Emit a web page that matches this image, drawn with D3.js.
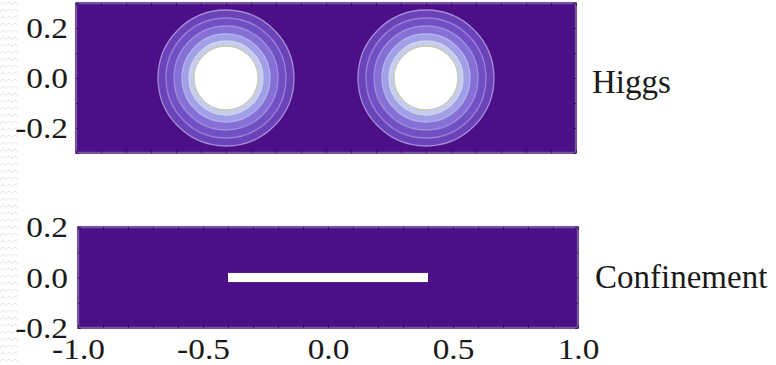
<!DOCTYPE html>
<html>
<head>
<meta charset="utf-8">
<script src="https://cdn.jsdelivr.net/npm/d3@7"></script>
<style>
  body { margin: 0; background: #fff; }
  svg { display: block; }
  svg text { font-family: "Liberation Serif"; }
</style>
</head>
<body>
<div id="chart"></div>
<script>
// values
const xTicks = [-1.0, -0.5, 0.0, 0.5, 1.0];
const higgsYTicks = [0.2, 0.0, -0.2];
const confYTicks = [0.2, 0.0, -0.2];
const minorStep = 0.1;
const vortexCenters = [-0.4, 0.4];
// contour levels of the Higgs field around each vortex (outer -> inner)
const contourRadii = [0.272, 0.24, 0.208, 0.176, 0.148, 0.128];
const contourColors = ['#6a43b9', '#7150c3', '#8670d6', '#a19fe8', '#c6ccf0', '#ffffff'];
const contourEdges = ['#a68cd8', '#9a80d6', '#9c8ee0', '#b4b2ec', '#d0d4e8', '#c8cbb0'];
const stringEnds = [-0.4, 0.4];
const stringHalfWidth = 0.018;
const panelLabels = ['Higgs', 'Confinement'];

const width = 776, height = 365;
const serif = '"Liberation Serif"';
const panelFill = '#4b1088';
const fmt = d => d3.format('.1f')(d).replace('\u2212', '-');

const svg = d3.select('#chart').append('svg')
  .attr('width', width)
  .attr('height', height);

svg.append('rect').attr('width', width).attr('height', height).attr('fill', '#fff');

// faint wavy pattern at the left edge
const defs = svg.append('defs');
defs.append('pattern')
  .attr('id', 'wave')
  .attr('patternUnits', 'userSpaceOnUse')
  .attr('width', 18).attr('height', 7)
  .append('path')
  .attr('d', 'M0,4.5 l3,-2.5 l3,2.5 l3,-2.5 l3,2.5 l3,-2.5 l3,2.5')
  .attr('fill', 'none')
  .attr('stroke', '#e6e6e6')
  .attr('stroke-width', 1);
svg.append('rect').attr('x', 0).attr('y', 0).attr('width', 18).attr('height', height)
  .attr('fill', 'url(#wave)');

// scales
const x1 = d3.scaleLinear().domain([-1, 1]).range([76, 576]);
const y1 = d3.scaleLinear().domain([-0.3, 0.3]).range([153, 3]);
const x2 = d3.scaleLinear().domain([-1, 1]).range([78, 578]);
const y2 = d3.scaleLinear().domain([-0.2, 0.2]).range([328, 227]);

function panel(x, y) {
  const g = svg.append('g');
  const [xa, xb] = x.range(), [ya, yb] = y.range();
  g.append('rect')
    .attr('x', xa).attr('y', yb).attr('width', xb - xa).attr('height', ya - yb)
    .attr('fill', panelFill)
    .attr('stroke', '#bca6dc').attr('stroke-width', 2.2);
  return g;
}

// dark frame + small inward ticks on every side
function frame(x, y) {
  const [xa, xb] = x.range(), [ya, yb] = y.range();
  const xs = d3.range(x.domain()[0], x.domain()[1] + 1e-9, minorStep);
  const ys = d3.range(y.domain()[0], y.domain()[1] + 1e-9, minorStep);
  const tick = (axis, tx, ty) => svg.append('g')
    .attr('transform', `translate(${tx},${ty})`)
    .call(axis.tickSize(-3).tickFormat(''))
    .call(g => g.select('.domain').remove())
    .call(g => g.selectAll('line').attr('stroke', '#2a0850').attr('stroke-opacity', 0.7));
  tick(d3.axisTop(x).tickValues(xs), 0, yb);
  tick(d3.axisBottom(x).tickValues(xs), 0, ya);
  tick(d3.axisLeft(y).tickValues(ys), xa, 0);
  tick(d3.axisRight(y).tickValues(ys), xb, 0);
  svg.append('rect')
    .attr('x', xa).attr('y', yb).attr('width', xb - xa).attr('height', ya - yb)
    .attr('fill', 'none')
    .attr('stroke', '#2a0850').attr('stroke-width', 1);
}

// --- Higgs panel
const higgsPanel = panel(x1, y1);
const px = r => x1(r) - x1(0);

const vortex = higgsPanel.selectAll('g.vortex')
  .data(vortexCenters)
  .enter().append('g')
  .attr('class', 'vortex')
  .attr('transform', d => `translate(${x1(d)},${y1(0)})`);

vortex.selectAll('circle')
  .data(contourRadii.map((r, i) => ({ r, fill: contourColors[i], edge: contourEdges[i] })))
  .enter().append('circle')
  .attr('r', d => px(d.r))
  .attr('fill', d => d.fill)
  .attr('stroke', d => d.edge)
  .attr('stroke-width', 1.3);

frame(x1, y1);

// --- Confinement panel
const confPanel = panel(x2, y2);
confPanel.append('rect')
  .attr('x', x2(stringEnds[0]))
  .attr('y', y2(stringHalfWidth))
  .attr('width', x2(stringEnds[1]) - x2(stringEnds[0]))
  .attr('height', y2(-stringHalfWidth) - y2(stringHalfWidth))
  .attr('fill', '#ffffff');

frame(x2, y2);

// --- axes
const stretch = 1.15;

function styleAxis(g) {
  g.select('.domain').remove();
  g.attr('font-family', null).attr('font-size', 29);
  g.selectAll('text').attr('fill', '#1a1a1a').style('font-family', serif);
}

svg.append('g')
  .attr('transform', `translate(${x1(-1)},0)`)
  .call(d3.axisLeft(y1).tickValues(higgsYTicks).tickSize(0).tickFormat(fmt))
  .call(styleAxis)
  .call(g => g.selectAll('text')
    .attr('x', -8 / stretch).attr('dy', '0.34em')
    .attr('transform', `scale(${stretch},1)`));

svg.append('g')
  .attr('transform', `translate(${x2(-1)},0)`)
  .call(d3.axisLeft(y2).tickValues(confYTicks).tickSize(0).tickFormat(fmt))
  .call(styleAxis)
  .call(g => g.selectAll('text')
    .attr('x', -10 / stretch).attr('dy', '0.34em')
    .attr('transform', `scale(${stretch},1)`));

svg.append('g')
  .attr('transform', `translate(0,${y2(-0.2)})`)
  .call(d3.axisBottom(x2).tickValues(xTicks).tickSize(0).tickFormat(fmt))
  .call(styleAxis)
  .call(g => g.selectAll('text')
    .attr('y', 31).attr('dy', 0)
    .attr('transform', `scale(${stretch},1)`));

// --- panel labels
svg.append('text')
  .attr('x', 592).attr('y', 93)
  .attr('font-size', 33).attr('fill', '#1a1a1a')
  .style('font-family', serif)
  .text(panelLabels[0]);

svg.append('text')
  .attr('x', 595).attr('y', 288)
  .attr('font-size', 33).attr('fill', '#1a1a1a')
  .style('font-family', serif)
  .text(panelLabels[1]);
</script>
</body>
</html>
